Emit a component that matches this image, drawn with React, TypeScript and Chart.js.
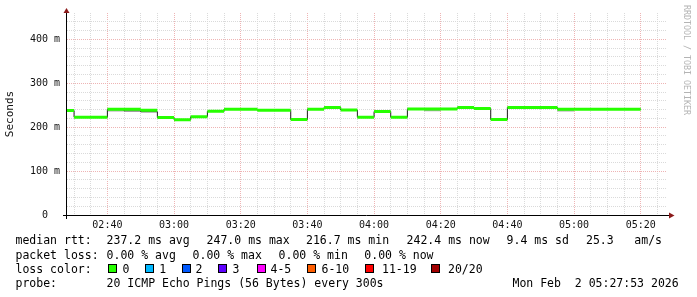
import React, { useEffect, useRef } from "react";
import { Chart, registerables } from "chart.js";
Chart.register(...registerables);

// ---- data ----
const intervalStarts = ["02:25","02:30","02:35","02:40","02:45","02:50","02:55","03:00","03:05","03:10","03:15","03:20","03:25","03:30","03:35","03:40","03:45","03:50","03:55","04:00","04:05","04:10","04:15","04:20","04:25","04:30","04:35","04:40","04:45","04:50","04:55","05:00","05:05","05:10","05:15"];
const medianMs = [238,222.7,222.7,241,241,238.6,222,217,224,236,241,241,238.6,238.6,217.5,241,245,239,222.7,235.6,222.7,241.6,241.6,241.6,245,242.5,217.5,245,245,245,241,241,241,241,241];
const medianLineMs = [238,222.7,222.7,241,237,235,222,217,224,236,241,241,238.6,238.6,217.5,241,245,239,222.7,235.6,222.7,241.6,241.6,241.6,245,242.5,217.5,245,245,245,241,241,241,241,241];
const smokeMs: (number | null)[] = [null,null,null,238,null,null,null,null,null,null,null,null,null,null,null,null,null,null,null,null,null,null,238.5,null,null,null,null,null,null,null,238,null,null,null,null];
const stepMinutes = 5;
const windowStart = "02:27:53";
const windowMinutes = 180;
const yMaxMs = 460;
const yGridStep = 20;
const yLabelStep = 100;
const xGridStep = 5;
const xLabelStep = 20;

const lossLabels = ["0", "1", "2", "3", "4-5", "6-10", "11-19", "20/20"];
const lossColors = ["#26ff00", "#00b8ff", "#0059ff", "#5e00ff", "#ff00ff", "#ff5e00", "#ff0000", "#a10000"];

const statsRow1: [number, string][] = [[15.5, "median rtt:"], [106.6, "237.2 ms avg"], [206.6, "247.0 ms max"], [306, "216.7 ms min"], [406.6, "242.4 ms now"], [506.6, "9.4 ms sd"], [586, "25.3"], [634.3, "am/s"]];
const statsRow2: [number, string][] = [[15.5, "packet loss:"], [106.6, "0.00 % avg"], [192.6, "0.00 % max"], [278.6, "0.00 % min"], [364.3, "0.00 % now"]];
const lossBoxX = [108, 145, 182, 218, 257, 307, 365, 430.5];
const lossLabelX = [122.5, 159.2, 195.6, 232.5, 270.5, 321.5, 382, 448];
const probeText = "20 ICMP Echo Pings (56 Bytes) every 300s";
const dateText = "Mon Feb  2 05:27:53 2026";

// ---- helpers ----
const toMin = (s: string) => {
  const p = s.split(":").map(Number);
  return p[0] * 60 + p[1] + (p[2] || 0) / 60;
};
const fmtMin = (v: number) => {
  const h = Math.floor(v / 60);
  const m = Math.round(v - h * 60);
  return String(h).padStart(2, "0") + ":" + String(m).padStart(2, "0");
};

const X_MIN = toMin(windowStart);
const X_MAX = X_MIN + windowMinutes;
const MONO = "DejaVu Sans Mono";
const MAJOR = "#eeb4b4";
const MINOR = "#dadada";

const axesPlugin = {
  id: "rrdAxes",
  afterDatasetsDraw(chart: any) {
    const { ctx, chartArea } = chart;
    const { left, right, top, bottom } = chartArea;
    ctx.save();
    ctx.strokeStyle = "#000";
    ctx.lineWidth = 1;
    ctx.beginPath();
    ctx.moveTo(left - 4, bottom + 0.5);
    ctx.lineTo(right + 3, bottom + 0.5);
    ctx.moveTo(left - 0.5, bottom + 4);
    ctx.lineTo(left - 0.5, top - 1);
    ctx.stroke();
    ctx.fillStyle = "#8b1a1a";
    ctx.beginPath();
    ctx.moveTo(right + 2, bottom - 2.5);
    ctx.lineTo(right + 7.5, bottom + 0.5);
    ctx.lineTo(right + 2, bottom + 3.5);
    ctx.closePath();
    ctx.fill();
    ctx.beginPath();
    ctx.moveTo(left - 3.5, top);
    ctx.lineTo(left - 0.5, top - 5);
    ctx.lineTo(left + 2.5, top);
    ctx.closePath();
    ctx.fill();
    ctx.restore();
  },
};

export default function App() {
  const ref = useRef<HTMLCanvasElement>(null);
  useEffect(() => {
    const starts = intervalStarts.map(toMin);
    const band: any[] = [];
    starts.forEach((t, i) => {
      band.push({ x: t, y: medianMs[i] });
      band.push({ x: t + stepMinutes, y: medianMs[i] });
      band.push({ x: t + stepMinutes, y: null });
    });
    const smoke: any[] = [];
    starts.forEach((t, i) => {
      const v = smokeMs[i];
      if (v == null) return;
      smoke.push({ x: t, y: v });
      smoke.push({ x: t + stepMinutes, y: v });
      smoke.push({ x: t + stepMinutes, y: null });
    });
    const line: any[] = starts.map((t, i) => ({ x: t, y: medianLineMs[i] }));
    line.push({ x: starts[starts.length - 1] + stepMinutes, y: medianLineMs[medianLineMs.length - 1] });

    const xTicks: number[] = [];
    for (let v = Math.ceil(X_MIN / xGridStep) * xGridStep; v < X_MAX; v += xGridStep) xTicks.push(v);
    const yTicks: number[] = [];
    for (let v = 0; v < yMaxMs; v += yGridStep) yTicks.push(v);

    const chart = new Chart(ref.current!, {
      type: "line",
      data: {
        datasets: [
          { data: band, borderColor: "#26ff00", borderWidth: 3, pointRadius: 0, spanGaps: false, borderCapStyle: "butt", order: 0, clip: 0 } as any,
          { data: line, borderColor: "#1e1e1e", borderWidth: 1, pointRadius: 0, stepped: "before", order: 1, clip: 0 } as any,
          { data: smoke, borderColor: "#a8a8a8", borderWidth: 2, pointRadius: 0, spanGaps: false, borderCapStyle: "butt", order: 2, clip: 0 } as any,
        ],
      },
      options: {
        responsive: false,
        animation: false,
        devicePixelRatio: 1,
        layout: { padding: { top: 13, right: 30, left: 0, bottom: 0 } },
        plugins: { legend: { display: false }, tooltip: { enabled: false }, title: { display: false } },
        scales: {
          x: {
            type: "linear",
            min: X_MIN,
            max: X_MAX,
            afterBuildTicks: (s: any) => { s.ticks = xTicks.map((v) => ({ value: v })); },
            afterFit: (s: any) => { s.height = 82; },
            ticks: {
              autoSkip: false, maxRotation: 0, minRotation: 0, padding: 4, color: "#111",
              font: { family: MONO, size: 10 },
              callback: (v: any) => (Math.round(v) % xLabelStep === 0 ? fmtMin(v) : ""),
            },
            grid: {
              drawTicks: false, lineWidth: 1,
              color: (c: any) => (c.tick && Math.round(c.tick.value) % xLabelStep === 0 ? MAJOR : MINOR),
            },
            border: { display: false, dash: [1, 1] },
          },
          y: {
            type: "linear",
            min: 0,
            max: yMaxMs,
            afterBuildTicks: (s: any) => { s.ticks = yTicks.map((v) => ({ value: v })); },
            afterFit: (s: any) => { s.width = 67; },
            ticks: {
              autoSkip: false, padding: 7, color: "#111",
              font: { family: MONO, size: 10 },
              callback: (v: any) => (v === 0 ? "0  " : v % yLabelStep === 0 ? `${v} m` : ""),
            },
            grid: {
              drawTicks: false, lineWidth: 1,
              color: (c: any) => (c.tick && c.tick.value % yLabelStep === 0 ? MAJOR : MINOR),
            },
            border: { display: false, dash: [1, 1] },
            title: { display: true, text: "Seconds", color: "#111", font: { family: MONO, size: 11 }, padding: { top: 4, bottom: 0 } },
          },
        },
      } as any,
      plugins: [axesPlugin],
    });
    return () => chart.destroy();
  }, []);

  const txt = (left: number, top: number, s: string, key: string) => (
    <div key={key} style={{ position: "absolute", left, top, font: `11.5px "${MONO}"`, lineHeight: "14px", whiteSpace: "pre", color: "#000" }}>{s}</div>
  );
  const rowTops = [233.3, 247.7, 262, 276.2];

  return (
    <div style={{ position: "fixed", left: 0, top: 0, width: 697, height: 297, background: "#fff", overflow: "hidden" }}>
      <canvas ref={ref} width={697} height={297} style={{ position: "absolute", left: 0, top: 0, width: 697, height: 297 }} />
      {statsRow1.map(([x, s], i) => txt(x, rowTops[0], s, "r1" + i))}
      {statsRow2.map(([x, s], i) => txt(x, rowTops[1], s, "r2" + i))}
      {txt(15.5, rowTops[2], "loss color:", "r3")}
      {lossLabels.map((l, i) => (
        <React.Fragment key={"lc" + i}>
          <div style={{ position: "absolute", left: lossBoxX[i], top: 264, width: 9, height: 9, boxSizing: "border-box", border: "1px solid #000", background: lossColors[i] }} />
          {txt(lossLabelX[i], rowTops[2], l, "ll" + i)}
        </React.Fragment>
      ))}
      {txt(15.5, rowTops[3], "probe:", "r4a")}
      {txt(106.6, rowTops[3], probeText, "r4b")}
      {txt(512.5, rowTops[3], dateText, "r4c")}
      <div style={{ position: "absolute", left: 682.3, top: 5, writingMode: "vertical-rl", font: `8.3px "${MONO}"`, lineHeight: "10px", whiteSpace: "pre", color: "#b4b4b4" }}>RRDTOOL / TOBI OETIKER</div>
    </div>
  );
}
